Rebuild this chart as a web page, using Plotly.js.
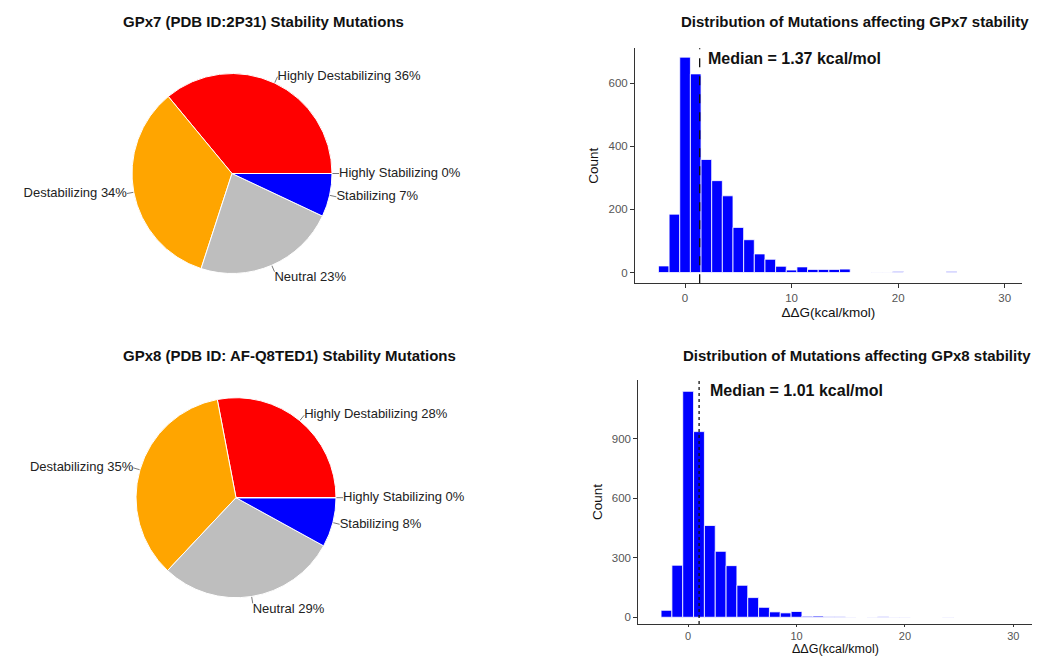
<!DOCTYPE html>
<html>
<head>
<meta charset="utf-8">
<script src="https://cdn.plot.ly/plotly-3.0.1.min.js"></script>
<style>html,body{margin:0;padding:0;background:#fff;}#chart{width:1042px;height:657px;}</style>
</head>
<body>
<div id="chart"></div>
<script>
// ---- data ----
const pieCategories = ["Highly Destabilizing", "Destabilizing", "Neutral", "Stabilizing", "Highly Stabilizing"];
const pieColors = ["#FF0000", "#FFA500", "#BEBEBE", "#0000FF", "#00008B"];
const gpx7Percent = [36, 34, 23, 7, 0];
const gpx8Percent = [28, 35, 29, 8, 0];

const gpx7Bins = [-2,-1,0,1,2,3,4,5,6,7,8,9,10,11,12,13,14,15,16,17,18,19,20,21,22,23,24,25];
const gpx7Counts = [21,185,682,629,358,291,243,143,104,59,42,20,8,18,10,10,10,11,0,0,1,1,3,0,0,0,0,3];
const gpx7Median = 1.37;

const gpx8Bins = [-2,-1,0,1,2,3,4,5,6,7,8,9,10,11,12,13,14,15,16,17,18,19,20,21,22,23,24];
const gpx8Counts = [35,262,1138,935,462,332,260,161,99,50,27,22,29,5,6,3,3,1,0,1,3,1,1,0,0,0,1];
const gpx8Median = 1.01;

const titles = {
  pie7: "GPx7 (PDB ID:2P31) Stability Mutations",
  pie8: "GPx8 (PDB ID: AF-Q8TED1) Stability Mutations",
  hist7: "Distribution of Mutations affecting GPx7 stability",
  hist8: "Distribution of Mutations affecting GPx8 stability"
};
const xTitle = "ΔΔG(kcal/kmol)";
const yTitle = "Count";

// ---- geometry helpers ----
const W = 1042, H = 657;
const px2x = p => p / W;
const px2y = p => 1 - p / H;
const LR = 1.5; // label-axis half range (pie radius = 1)

function pieDomain(cx, cy, r) {
  return { x: [px2x(cx - r), px2x(cx + r)], y: [px2y(cy + r), px2y(cy - r)] };
}
function labelDomain(cx, cy, r) {
  const h = r * LR;
  return { x: [px2x(cx - h), px2x(cx + h)], y: [px2y(cy + h), px2y(cy - h)] };
}

function labelTraces(values, xa, ya) {
  const total = values.reduce((a, b) => a + b, 0);
  let cum = 0;
  const lx = [], ly = [], tx = [], ty = [], txt = [], pos = [];
  values.forEach((v, i) => {
    const mid = (cum + v / 2) / total * 2 * Math.PI;
    cum += v;
    const c = Math.cos(mid), s = Math.sin(mid);
    lx.push(c * 1.0, c * 1.07, null);
    ly.push(s * 1.0, s * 1.07, null);
    tx.push(c * 1.07);
    ty.push(s * 1.07);
    txt.push(pieCategories[i] + " " + v + "%");
    const vert = s < -0.8 ? "bottom" : "middle";
    pos.push(vert + (c >= 0 ? " right" : " left"));
  });
  return [
    { type: "scatter", mode: "lines", x: lx, y: ly, xaxis: xa, yaxis: ya,
      line: { color: "#555", width: 0.8 }, hoverinfo: "skip", showlegend: false },
    { type: "scatter", mode: "text", x: tx, y: ty, text: txt, textposition: pos,
      xaxis: xa, yaxis: ya, cliponaxis: false, hoverinfo: "skip", showlegend: false,
      textfont: { family: "Liberation Sans, Arial, sans-serif", size: 13, color: "#222" } }
  ];
}

const p7 = { cx: 232, cy: 173.5, r: 100 };
const p8 = { cx: 236, cy: 497.7, r: 100 };

function pieTrace(values, dom) {
  const total = values.reduce((a, b) => a + b, 0);
  // Plotly's counterclockwise mode places the first slice clockwise of 'rotation';
  // shift so that the first slice starts at 3 o'clock and runs counterclockwise.
  const rot = 90 - values[0] / total * 360;
  return {
    type: "pie", values: values, labels: pieCategories, sort: false,
    direction: "counterclockwise", rotation: rot, textinfo: "none",
    marker: { colors: pieColors, line: { color: "#ffffff", width: 1 } },
    domain: dom, showlegend: false, hoverinfo: "label+percent"
  };
}

function barTrace(bins, counts, xa, ya) {
  return {
    type: "bar", x: bins, y: counts, width: 1, xaxis: xa, yaxis: ya,
    marker: { color: "#0000FF", line: { color: "#ffffff", width: 0.8 } },
    showlegend: false
  };
}

const data = [
  pieTrace(gpx7Percent, pieDomain(p7.cx, p7.cy, p7.r)),
  pieTrace(gpx8Percent, pieDomain(p8.cx, p8.cy, p8.r)),
  ...labelTraces(gpx7Percent, "x3", "y3"),
  ...labelTraces(gpx8Percent, "x4", "y4"),
  barTrace(gpx7Bins, gpx7Counts, "x", "y"),
  barTrace(gpx8Bins, gpx8Counts, "x2", "y2")
];

const tickFont = { family: "Liberation Sans, Arial, sans-serif", size: 11.5, color: "#555" };
const axTitleFont = { family: "Liberation Sans, Arial, sans-serif", size: 13.5, color: "#111" };

function histX(domain, range, anchor, tl, tfs, withTitle) {
  const ax = {
    domain: domain, range: range, anchor: anchor, showgrid: false, zeroline: false,
    showline: true, linecolor: "#333", linewidth: 1, ticks: "outside", ticklen: tl,
    tickcolor: "#333", tickvals: [0, 10, 20, 30], tickfont: Object.assign({}, tickFont, { size: tfs })
  };
  if (withTitle) ax.title = { text: xTitle, font: axTitleFont, standoff: 4 };
  return ax;
}
function histY(domain, range, anchor, tv) {
  return {
    domain: domain, range: range, anchor: anchor, showgrid: false, zeroline: false,
    showline: true, linecolor: "#333", linewidth: 1, ticks: "outside", ticklen: 4,
    tickcolor: "#333", tickvals: tv, tickfont: tickFont,
    title: { text: yTitle, font: axTitleFont, standoff: 6 }
  };
}
function hiddenAxis(domain, anchor) {
  return { domain: domain, range: [-LR, LR], anchor: anchor, visible: false, fixedrange: true };
}

const ld7 = labelDomain(p7.cx, p7.cy, p7.r);
const ld8 = labelDomain(p8.cx, p8.cy, p8.r);

const titleFont = { family: "Liberation Sans, Arial, sans-serif", size: 15, color: "#111", weight: "bold" };
const medFont = { family: "Liberation Sans, Arial, sans-serif", size: 16, color: "#111", weight: "bold" };

const layout = {
  width: W, height: H, margin: { l: 0, r: 0, t: 0, b: 0 },
  paper_bgcolor: "#ffffff", plot_bgcolor: "#ffffff", bargap: 0, showlegend: false,
  xaxis: histX([px2x(635), px2x(1021.7)], [-4.7, 31.6], "y", 4, 11.5, true),
  yaxis: histY([px2y(283.3), px2y(48.3)], [-34, 710], "x", [0, 200, 400, 600]),
  xaxis2: histX([px2x(638.3), px2x(1031.7)], [-4.6, 31.7], "y2", 2, 11, false),
  yaxis2: histY([px2y(624), px2y(380)], [-34, 1195], "x2", [0, 300, 600, 900]),
  xaxis3: hiddenAxis(ld7.x, "y3"), yaxis3: hiddenAxis(ld7.y, "x3"),
  xaxis4: hiddenAxis(ld8.x, "y4"), yaxis4: hiddenAxis(ld8.y, "x4"),
  shapes: [
    { type: "line", xref: "x", yref: "y domain", x0: gpx7Median, x1: gpx7Median, y0: 0, y1: 1,
      line: { color: "#111", width: 1.3, dash: "dash" } },
    { type: "line", xref: "x2", yref: "y2 domain", x0: gpx8Median, x1: gpx8Median, y0: 0, y1: 1,
      line: { color: "#111", width: 1.3, dash: "dot" } }
  ],
  annotations: [
    { text: "<b>" + titles.pie7 + "</b>", xref: "paper", yref: "paper", x: px2x(263), y: px2y(21),
      showarrow: false, font: titleFont, xanchor: "center", yanchor: "middle" },
    { text: "<b>" + titles.pie8 + "</b>", xref: "paper", yref: "paper", x: px2x(289), y: px2y(355),
      showarrow: false, font: titleFont, xanchor: "center", yanchor: "middle" },
    { text: "<b>" + titles.hist7 + "</b>", xref: "paper", yref: "paper", x: px2x(855), y: px2y(21),
      showarrow: false, font: titleFont, xanchor: "center", yanchor: "middle" },
    { text: "<b>" + titles.hist8 + "</b>", xref: "paper", yref: "paper", x: px2x(857), y: px2y(355),
      showarrow: false, font: titleFont, xanchor: "center", yanchor: "middle" },
    { text: xTitle, xref: "x2 domain", yref: "paper", x: 0.5, y: 0, yanchor: "bottom",
      showarrow: false, font: Object.assign({}, axTitleFont, { size: 12.5 }), borderpad: 0 },
    { text: "<b>Median = " + gpx7Median.toFixed(2) + " kcal/mol</b>", xref: "x", yref: "y domain",
      x: gpx7Median, y: 0.9587, xshift: 6, showarrow: false, font: medFont, xanchor: "left", yanchor: "middle" },
    { text: "<b>Median = " + gpx8Median.toFixed(2) + " kcal/mol</b>", xref: "x2", yref: "y2 domain",
      x: gpx8Median, y: 0.957, xshift: 9, showarrow: false, font: medFont, xanchor: "left", yanchor: "middle" }
  ]
};

Plotly.newPlot("chart", data, layout, { displayModeBar: false, staticPlot: true });
</script>
</body>
</html>
